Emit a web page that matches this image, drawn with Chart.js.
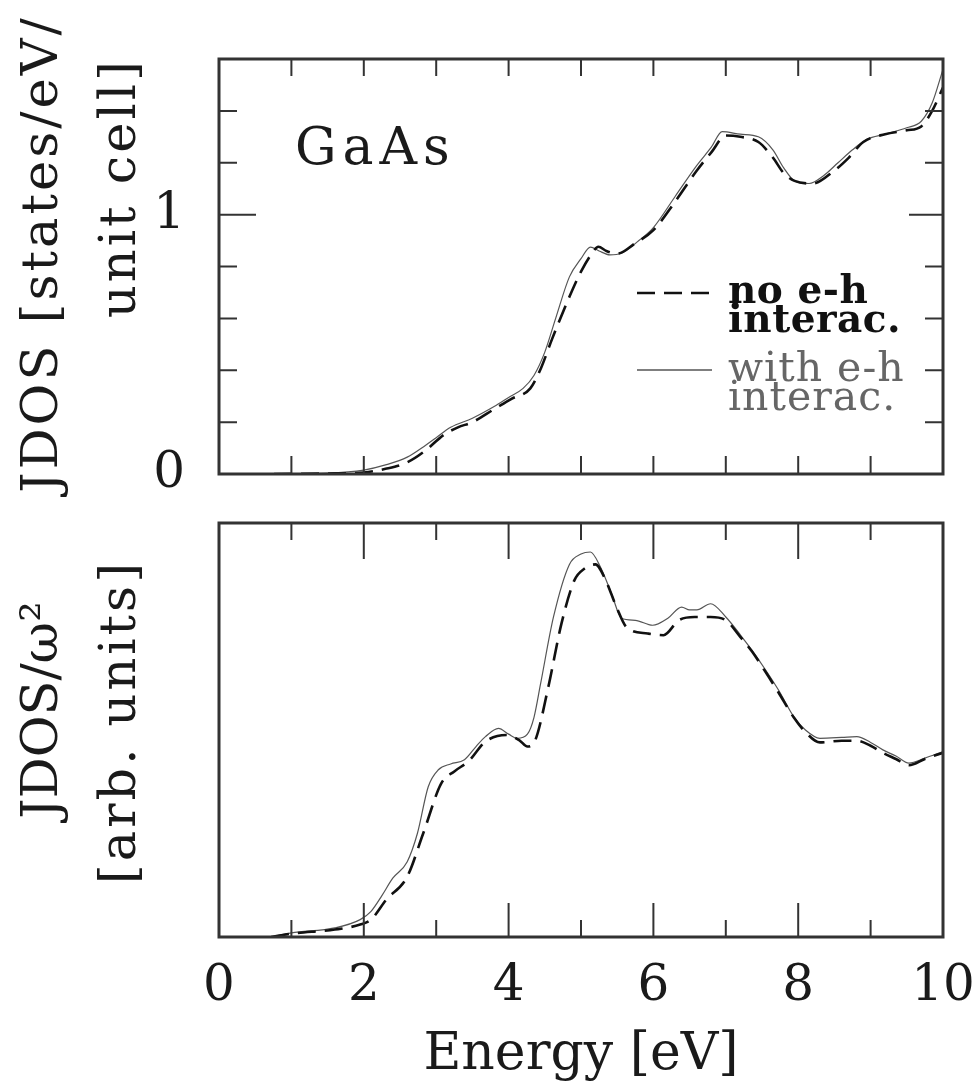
<!DOCTYPE html>
<html>
<head>
<meta charset="utf-8">
<script src="https://cdn.jsdelivr.net/npm/chart.js@4"></script>
<style>
  body { margin: 0; background: #fff; }
  #wrap { position: relative; width: 977px; height: 1090px; }
  canvas { position: absolute; left: 0; }
</style>
</head>
<body>
<div id="wrap">
  <canvas id="topChart" width="977" height="520" style="top:0"></canvas>
  <canvas id="bottomChart" width="977" height="590" style="top:500px"></canvas>
</div>
<script>
// ---- data ----
const seriesNames = ['no e-h interac.', 'with e-h interac.'];
const legendText = [['no e-h', 'interac.'], ['with e-h', 'interac.']];
const panelName = 'GaAs';
const topYTitle = ['JDOS [states/eV/', 'unit cell]'];
const bottomYTitle = ['JDOS/\u03c9\u00b2', '[arb. units]'];
const xTitle = 'Energy [eV]';

const xTickValues = [1, 2, 3, 4, 5, 6, 7, 8, 9];
const topYTickValues = [0.2, 0.4, 0.6, 0.8, 1.0, 1.2, 1.4];
const topYLabelValues = [0, 1];

// top panel: JDOS
const topNoE = [0.76, 1.5, 2.0, 2.3, 2.6, 2.85, 3.1, 3.3, 3.5, 3.8, 4.04, 4.3, 4.45, 4.6, 4.84, 5.0, 5.15, 5.24, 5.35, 5.5, 5.75, 6.0, 6.3, 6.6, 6.8, 7.0, 7.2, 7.45, 7.65, 7.8, 7.95, 8.2, 8.5, 8.7, 8.9, 9.2, 9.5, 9.7, 9.85, 10];
const topNoY = [0, 0.002, 0.006, 0.02, 0.045, 0.09, 0.15, 0.18, 0.2, 0.25, 0.29, 0.33, 0.41, 0.52, 0.683, 0.78, 0.85, 0.876, 0.86, 0.85, 0.89, 0.94, 1.05, 1.17, 1.24, 1.305, 1.3, 1.28, 1.22, 1.16, 1.13, 1.12, 1.17, 1.22, 1.28, 1.31, 1.325, 1.34, 1.4, 1.49];
const topWithE = [0.76, 1.5, 2.0, 2.3, 2.6, 2.85, 3.0, 3.2, 3.5, 3.8, 4.0, 4.2, 4.35, 4.5, 4.65, 4.84, 5.0, 5.13, 5.25, 5.4, 5.55, 5.8, 6.0, 6.3, 6.6, 6.8, 6.95, 7.2, 7.45, 7.65, 7.8, 7.95, 8.15, 8.35, 8.55, 8.75, 8.95, 9.2, 9.5, 9.7, 9.85, 10];
const topWithY = [0, 0.003, 0.015, 0.035, 0.065, 0.11, 0.14, 0.18, 0.215, 0.26, 0.295, 0.33, 0.38, 0.47, 0.6, 0.76, 0.83, 0.875, 0.86, 0.845, 0.85, 0.9, 0.95, 1.07, 1.19, 1.26, 1.32, 1.31, 1.3, 1.25, 1.18, 1.13, 1.12, 1.15, 1.2, 1.25, 1.29, 1.31, 1.335, 1.36, 1.43, 1.56];

// bottom panel: JDOS / w^2 (arbitrary units)
const botNoE = [0.72, 1.0, 1.6, 1.95, 2.1, 2.31, 2.6, 2.82, 3.07, 3.25, 3.45, 3.68, 3.97, 4.15, 4.26, 4.37, 4.55, 4.73, 4.91, 5.05, 5.2, 5.34, 5.49, 5.63, 5.92, 6.14, 6.35, 6.57, 6.79, 7.0, 7.2, 7.36, 7.55, 7.73, 7.94, 8.1, 8.3, 8.6, 8.81, 9.0, 9.17, 9.35, 9.53, 9.75, 10];
const botNoY = [0, 0.008, 0.018, 0.03, 0.042, 0.09, 0.146, 0.25, 0.371, 0.4, 0.425, 0.472, 0.488, 0.475, 0.46, 0.476, 0.605, 0.757, 0.862, 0.89, 0.9, 0.862, 0.797, 0.748, 0.733, 0.729, 0.765, 0.773, 0.773, 0.765, 0.725, 0.69, 0.64, 0.59, 0.53, 0.495, 0.47, 0.474, 0.474, 0.462, 0.445, 0.43, 0.415, 0.43, 0.445];
const botWithE = [0.72, 1.0, 1.6, 1.95, 2.1, 2.25, 2.4, 2.6, 2.74, 2.89, 3.03, 3.2, 3.39, 3.55, 3.68, 3.86, 4.0, 4.12, 4.26, 4.35, 4.44, 4.62, 4.84, 5.0, 5.13, 5.27, 5.42, 5.56, 5.75, 5.99, 6.2, 6.39, 6.5, 6.6, 6.79, 7.0, 7.2, 7.36, 7.55, 7.73, 7.94, 8.1, 8.3, 8.6, 8.81, 9.0, 9.17, 9.35, 9.53, 9.75, 10];
const botWithY = [0, 0.01, 0.022, 0.042, 0.062, 0.1, 0.142, 0.182, 0.25, 0.363, 0.404, 0.418, 0.428, 0.46, 0.484, 0.504, 0.49, 0.48, 0.49, 0.53, 0.61, 0.773, 0.9, 0.925, 0.93, 0.893, 0.83, 0.77, 0.765, 0.753, 0.77, 0.797, 0.79, 0.79, 0.805, 0.773, 0.73, 0.693, 0.645, 0.596, 0.532, 0.5, 0.48, 0.482, 0.484, 0.47, 0.452, 0.437, 0.42, 0.432, 0.448];

const FONT = '"DejaVu Serif", serif';
const INK = '#1a1a1a';

function toPoints(xs, ys) {
    return xs.map((x, i) => ({ x, y: ys[i] }));
}

function makeDatasets(noE, noY, withE, withY) {
    return [{
        label: seriesNames[0],
        data: toPoints(noE, noY),
        borderColor: '#111',
        borderWidth: 2.6,
        borderDash: [18, 9],
        pointRadius: 0,
        cubicInterpolationMode: 'monotone'
    }, {
        label: seriesNames[1],
        data: toPoints(withE, withY),
        borderColor: '#555',
        borderWidth: 1.2,
        pointRadius: 0,
        cubicInterpolationMode: 'monotone'
    }];
}

// frame around the plot area plus inward tick marks
const frameTicks = {
    id: 'frameTicks',
    afterDatasetsDraw(chart, args, opts) {
        const { ctx, chartArea: a, scales: { x, y } } = chart;
        ctx.save();
        ctx.strokeStyle = '#333';
        ctx.lineWidth = 2;
        ctx.beginPath();
        xTickValues.forEach(v => {
            const px = x.getPixelForValue(v);
            const major = v % 2 === 0;
            const top = major ? opts.xMajorTop : opts.xMinorTop;
            const bot = major ? opts.xMajorBottom : opts.xMinorBottom;
            ctx.moveTo(px, a.top); ctx.lineTo(px, a.top + top);
            ctx.moveTo(px, a.bottom); ctx.lineTo(px, a.bottom - bot);
        });
        if (opts.yTicks) {
            topYTickValues.forEach(v => {
                const py = y.getPixelForValue(v);
                const major = topYLabelValues.includes(v);
                ctx.moveTo(a.left, py); ctx.lineTo(a.left + (major ? 37 : 18), py);
                ctx.moveTo(a.right, py); ctx.lineTo(a.right - (major ? 34 : 18), py);
            });
        }
        ctx.stroke();
        ctx.lineWidth = 3;
        ctx.strokeRect(a.left, a.top, a.right - a.left, a.bottom - a.top);
        ctx.restore();
    }
};

function rotText(ctx, text, x, y) {
    ctx.save();
    ctx.translate(x, y);
    ctx.rotate(-Math.PI / 2);
    ctx.fillText(text, 0, 0);
    ctx.restore();
}

const topTexts = {
    id: 'topTexts',
    afterDraw(chart) {
        const ctx = chart.ctx;
        ctx.save();
        ctx.fillStyle = INK;
        ctx.textBaseline = 'alphabetic';
        ctx.font = '52px ' + FONT;
        ctx.letterSpacing = '6px';
        ctx.fillText(panelName, 295, 164);

        ctx.font = '51px ' + FONT;
        ctx.letterSpacing = '3px';
        ctx.textAlign = 'center';
        rotText(ctx, topYTitle[0], 57, 254);
        rotText(ctx, topYTitle[1], 135, 188);

        // legend
        ctx.textAlign = 'left';
        ctx.textBaseline = 'middle';
        const rows = [293, 370];
        chart.data.datasets.forEach((ds, i) => {
            const yy = rows[i];
            ctx.strokeStyle = ds.borderColor;
            ctx.lineWidth = i === 0 ? 2.6 : 1.6;
            ctx.setLineDash(ds.borderDash || []);
            ctx.beginPath();
            ctx.moveTo(637, yy);
            ctx.lineTo(712, yy);
            ctx.stroke();
            ctx.setLineDash([]);
            ctx.font = i === 0 ? 'bold 39px ' + FONT : '41px ' + FONT;
            ctx.letterSpacing = i === 0 ? '0.5px' : '1px';
            ctx.fillStyle = i === 0 ? '#111' : '#666';
            legendText[i].forEach((t, j) => ctx.fillText(t, 728, yy + j * 29));
        });
        ctx.restore();
    }
};

const bottomTexts = {
    id: 'bottomTexts',
    afterDraw(chart) {
        const ctx = chart.ctx;
        ctx.save();
        ctx.fillStyle = INK;
        ctx.textAlign = 'center';
        ctx.font = '51px ' + FONT;
        rotText(ctx, bottomYTitle[0], 57, 710 - 500);
        ctx.letterSpacing = '3px';
        rotText(ctx, bottomYTitle[1], 135, 722 - 500);
        ctx.restore();
    }
};

new Chart(document.getElementById('topChart'), {
    type: 'line',
    data: { datasets: makeDatasets(topNoE, topNoY, topWithE, topWithY) },
    options: {
        responsive: false,
        animation: false,
        devicePixelRatio: 1,
        layout: { padding: { left: 0, top: 59, right: 34, bottom: 46 } },
        plugins: {
            legend: { display: false },
            tooltip: { enabled: false },
            frameTicks: { xMajorTop: 17, xMinorTop: 17, xMajorBottom: 18, xMinorBottom: 18, yTicks: true }
        },
        scales: {
            x: { type: 'linear', min: 0, max: 10, display: false },
            y: {
                min: 0, max: 1.6,
                grid: { display: false },
                border: { display: false },
                ticks: {
                    stepSize: 0.2,
                    autoSkip: false,
                    padding: 26,
                    color: INK,
                    font: { family: 'DejaVu Serif', size: 50 },
                    callback: v => {
                        const hit = topYLabelValues.find(t => Math.abs(t - v) < 1e-6);
                        return hit === undefined ? '' : String(hit);
                    }
                },
                afterFit: scale => {
                    scale.width = 219;
                    scale.paddingTop = 0;
                    scale.paddingBottom = 0;
                }
            }
        }
    },
    plugins: [frameTicks, topTexts]
});

new Chart(document.getElementById('bottomChart'), {
    type: 'line',
    data: { datasets: makeDatasets(botNoE, botNoY, botWithE, botWithY) },
    options: {
        responsive: false,
        animation: false,
        devicePixelRatio: 1,
        layout: { padding: { left: 219, top: 23, right: 34, bottom: 0 } },
        plugins: {
            legend: { display: false },
            tooltip: { enabled: false },
            frameTicks: { xMajorTop: 36, xMinorTop: 17, xMajorBottom: 34, xMinorBottom: 17, yTicks: false }
        },
        scales: {
            x: {
                type: 'linear', min: 0, max: 10,
                grid: { display: false },
                border: { display: false },
                ticks: {
                    stepSize: 2,
                    padding: 12,
                    color: INK,
                    maxRotation: 0,
                    font: { family: 'DejaVu Serif', size: 50 }
                },
                title: {
                    display: true,
                    text: xTitle,
                    color: INK,
                    font: { family: 'DejaVu Serif', size: 52 },
                    padding: { top: 0, bottom: 3 }
                },
                afterFit: scale => {
                    scale.height = 153;
                    scale.paddingLeft = 0;
                    scale.paddingRight = 0;
                }
            },
            y: { min: 0, max: 1, display: false }
        }
    },
    plugins: [frameTicks, bottomTexts]
});
</script>
</body>
</html>
